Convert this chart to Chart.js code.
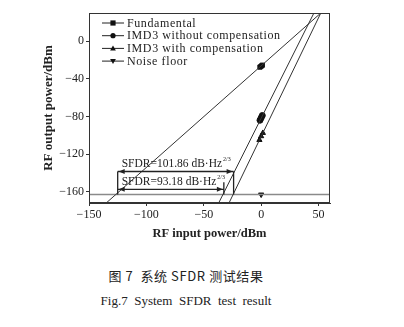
<!DOCTYPE html>
<html lang="en">
<head>
    <meta charset="UTF-8">
    <title>System SFDR test result</title>
    <script src="https://cdn.jsdelivr.net/npm/chart.js"></script>
    <style>
        body {
            margin: 0;
            background-color: #ffffff;
            width: 404px;
            height: 327px;
            position: relative;
            overflow: hidden;
        }
        .chart-box {
            position: absolute;
            left: 0;
            top: 0;
            width: 404px;
            height: 250px;
        }
        .caption {
            position: absolute;
            left: 86px;
            width: 200px;
            text-align: center;
            color: #222;
            white-space: nowrap;
        }
        .cap-cn {
            top: 266px;
            font-family: "Noto Sans CJK SC", sans-serif;
            font-size: 13px;
            letter-spacing: 0.6px;
        }
        .cap-en {
            top: 293px;
            font-family: "Liberation Serif", serif;
            font-size: 13px;
        }
    </style>
</head>
<body>

<div class="chart-box">
    <canvas id="sfdrChart"></canvas>
</div>
<div class="caption cap-cn">图 7&nbsp; 系统 SFDR 测试结果</div>
<div class="caption cap-en">Fig.7&nbsp; System&nbsp; SFDR&nbsp; test&nbsp; result</div>

<script>
    // axis ticks
    const xTicks = [-150, -100, -50, 0, 50];
    const yTicks = [-160, -120, -80, -40, 0];

    // fitted lines (at the frame edges)
    const fundamentalLineX = [-135, 52];
    const fundamentalLineY = [-172, 30];
    const imd3NoCompLineX = [-37, 46];
    const imd3NoCompLineY = [-172, 30];
    const imd3CompLineX = [-28, 52];
    const imd3CompLineY = [-172, 30];
    const noiseLineX = [-150, 60];
    const noiseLineY = [-163, -163];

    // measured points near 0 dBm input
    const fundamentalPtsX = [-1, 0, 1];
    const fundamentalPtsY = [-27.5, -26.5, -25.5];
    const imd3NoCompPtsX = [-1, 0, 1];
    const imd3NoCompPtsY = [-84, -81.5, -79];
    const imd3CompPtsX = [-1.5, 0, 1.5];
    const imd3CompPtsY = [-105, -101, -97.5];
    const noisePtsX = [0];
    const noisePtsY = [-163];

    // SFDR markers: [x start, x end, y of arrow]
    const sfdrUpper = [-125, -24, -138.5];
    const sfdrLower = [-125, -32.5, -157.5];

    const legendNames = ['Fundamental', 'IMD3 without compensation', 'IMD3 with compensation', 'Noise floor'];
    const markerStyles = ['rect', 'circle', 'triangle', 'triangle'];
    const markerRotations = [0, 0, 0, 180];

    const toPoints = (xs, ys) => xs.map((x, i) => ({ x: x, y: ys[i] }));
    const ink = '#222';
    const serif = '"Liberation Serif", "DejaVu Serif", serif';

    function lineSet(xs, ys, color, width) {
        return {
            data: toPoints(xs, ys),
            showLine: true,
            borderColor: color,
            borderWidth: width,
            pointRadius: 0
        };
    }
    function pointSet(xs, ys, style, rotation) {
        return {
            data: toPoints(xs, ys),
            showLine: false,
            pointStyle: style,
            rotation: rotation,
            pointRadius: 3,
            backgroundColor: '#111',
            borderColor: '#111',
            borderWidth: 1
        };
    }

    // frame, legend and SFDR arrows
    const extras = {
        id: 'extras',
        afterDraw(chart) {
            const ctx = chart.ctx;
            const xs = chart.scales.x;
            const ys = chart.scales.y;
            const ca = chart.chartArea;
            ctx.save();

            // box round the plot
            ctx.strokeStyle = '#333';
            ctx.lineWidth = 1;
            ctx.strokeRect(ca.left + 0.5, ca.top + 0.5, ca.right - ca.left - 1, ca.bottom - ca.top - 1);

            // SFDR dimension lines
            const floorY = ys.getPixelForValue(noiseLineY[0]);
            function arrowHead(x, y, dir) {
                ctx.beginPath();
                ctx.moveTo(x, y);
                ctx.lineTo(x - dir * 6, y - 2.5);
                ctx.lineTo(x - dir * 6, y + 2.5);
                ctx.closePath();
                ctx.fill();
            }
            function dimension(spec, rightTop) {
                const x1 = xs.getPixelForValue(spec[0]);
                const x2 = xs.getPixelForValue(spec[1]);
                const y = ys.getPixelForValue(spec[2]);
                ctx.strokeStyle = ink;
                ctx.fillStyle = ink;
                ctx.lineWidth = 1.3;
                ctx.beginPath();
                ctx.moveTo(x1, y);
                ctx.lineTo(x2, y);
                ctx.moveTo(x2, ys.getPixelForValue(rightTop));
                ctx.lineTo(x2, floorY);
                ctx.stroke();
                arrowHead(x1 + 1, y, -1);
                arrowHead(x2 - 1, y, 1);
            }
            dimension(sfdrUpper, sfdrUpper[2]);
            dimension(sfdrLower, -150);
            ctx.beginPath();
            ctx.moveTo(xs.getPixelForValue(sfdrUpper[0]), ys.getPixelForValue(sfdrUpper[2]));
            ctx.lineTo(xs.getPixelForValue(sfdrUpper[0]), floorY);
            ctx.stroke();

            function sfdrText(value, spec, yVal) {
                const x = xs.getPixelForValue(spec[0]) + 4;
                const y = ys.getPixelForValue(yVal);
                ctx.fillStyle = ink;
                ctx.textBaseline = 'alphabetic';
                ctx.textAlign = 'left';
                ctx.font = '11.5px ' + serif;
                const txt = 'SFDR=' + value + ' dB\u00b7Hz';
                ctx.fillText(txt, x, y);
                const w = ctx.measureText(txt).width;
                ctx.font = '6px ' + serif;
                ctx.fillText('2/3', x + w + 1, y - 6);
            }
            sfdrText('101.86', sfdrUpper, -133.5);
            sfdrText('93.18', sfdrLower, -152.5);

            // legend: short line with marker, then the name
            const lx = ca.left + 13;
            const ly = ca.top + 10;
            legendNames.forEach((name, i) => {
                const y = ly + i * 12.7;
                ctx.strokeStyle = ink;
                ctx.fillStyle = '#111';
                ctx.lineWidth = 1;
                ctx.beginPath();
                ctx.moveTo(lx, y);
                ctx.lineTo(lx + 22, y);
                ctx.stroke();
                drawMarker(ctx, markerStyles[i], markerRotations[i], lx + 11, y, 2.6);
                ctx.fillStyle = ink;
                ctx.font = '12px ' + serif;
                ctx.letterSpacing = '0.6px';
                ctx.textAlign = 'left';
                ctx.textBaseline = 'middle';
                ctx.fillText(name, lx + 25, y + 0.5);
                ctx.letterSpacing = '0px';
            });
            ctx.restore();
        }
    };

    function drawMarker(ctx, style, rotation, x, y, r) {
        ctx.beginPath();
        if (style === 'rect') {
            ctx.rect(x - r, y - r, 2 * r, 2 * r);
        } else if (style === 'circle') {
            ctx.arc(x, y, r, 0, Math.PI * 2);
        } else {
            const s = rotation === 180 ? -1 : 1;
            ctx.moveTo(x, y - s * r * 1.1);
            ctx.lineTo(x - r * 1.1, y + s * r * 0.8);
            ctx.lineTo(x + r * 1.1, y + s * r * 0.8);
            ctx.closePath();
        }
        ctx.fill();
    }

    const minus = v => String(v).replace('-', '\u2212');

    new Chart(document.getElementById('sfdrChart'), {
        type: 'scatter',
        data: {
            datasets: [
                lineSet(fundamentalLineX, fundamentalLineY, '#333', 1),
                lineSet(imd3NoCompLineX, imd3NoCompLineY, '#333', 1),
                lineSet(imd3CompLineX, imd3CompLineY, '#333', 1),
                lineSet(noiseLineX, noiseLineY, '#8a8a8a', 1.6),
                pointSet(fundamentalPtsX, fundamentalPtsY, 'rect', 0),
                pointSet(imd3NoCompPtsX, imd3NoCompPtsY, 'circle', 0),
                pointSet(imd3CompPtsX, imd3CompPtsY, 'triangle', 0),
                pointSet(noisePtsX, noisePtsY, 'triangle', 180)
            ]
        },
        options: {
            responsive: true,
            maintainAspectRatio: false,
            animation: false,
            layout: { padding: { left: 38, top: 13, right: 74, bottom: 0 } },
            plugins: {
                legend: { display: false },
                tooltip: { enabled: false }
            },
            scales: {
                x: {
                    type: 'linear',
                    min: -150,
                    max: 60,
                    afterBuildTicks: s => { s.ticks = xTicks.map(v => ({ value: v })); },
                    afterFit: s => { s.height = 47; },
                    grid: { drawOnChartArea: false, tickLength: 3, color: '#333' },
                    border: { color: '#333' },
                    ticks: {
                        color: ink,
                        padding: 2,
                        maxRotation: 0,
                        font: { family: serif, size: 12 },
                        callback: v => minus(v)
                    },
                    title: {
                        display: true,
                        text: 'RF input power/dBm',
                        color: ink,
                        padding: { top: 0, bottom: 9 },
                        font: { family: serif, size: 12.5, weight: 'bold' }
                    }
                },
                y: {
                    type: 'linear',
                    min: -172,
                    max: 30,
                    afterBuildTicks: s => { s.ticks = yTicks.map(v => ({ value: v })); },
                    afterFit: s => { s.width = 51; },
                    grid: { drawOnChartArea: false, tickLength: 3, color: '#333' },
                    border: { color: '#333' },
                    ticks: {
                        color: ink,
                        padding: 2,
                        font: { family: serif, size: 12 },
                        callback: v => minus(v)
                    },
                    title: {
                        display: true,
                        text: 'RF output power/dBm',
                        color: ink,
                        padding: { top: 3, bottom: 0 },
                        font: { family: serif, size: 13, weight: 'bold' }
                    }
                }
            }
        },
        plugins: [extras]
    });
</script>

</body>
</html>
